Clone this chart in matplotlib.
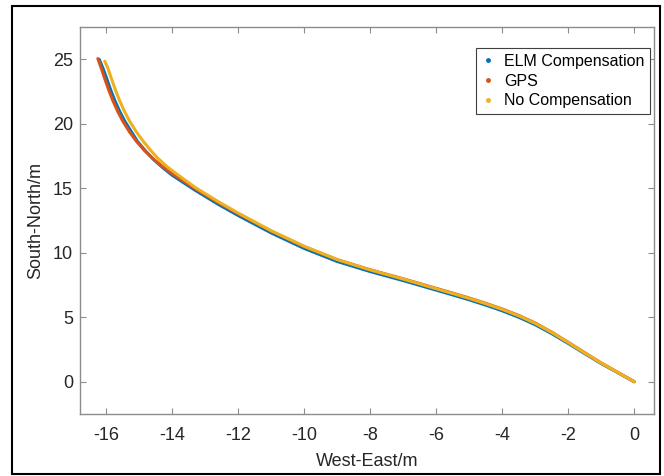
import matplotlib
matplotlib.use('Agg')
import matplotlib.pyplot as plt
from matplotlib.lines import Line2D
from matplotlib.patches import Rectangle

plt.rcParams['font.family'] = ['Liberation Sans', 'DejaVu Sans']

# Data
gps_x = [0, -0.5, -1.0, -1.5, -2.0, -2.5, -3.0, -3.5, -4.0, -4.5, -5.0, -5.5, -6.0,
         -7.0, -8.0, -9.0, -10.0, -11.0, -12.0, -12.6, -13.3, -14.0, -14.3, -14.6,
         -14.85, -15.1, -15.3, -15.5, -15.65, -15.8, -15.93, -16.06, -16.16, -16.26]
gps_y = [0, 0.73, 1.46, 2.25, 3.06, 3.84, 4.55, 5.14, 5.64, 6.08, 6.49, 6.87, 7.24,
         7.98, 8.68, 9.46, 10.47, 11.67, 13.02, 13.87, 14.95, 16.12, 16.69, 17.32,
         17.94, 18.67, 19.37, 20.19, 20.92, 21.77, 22.62, 23.57, 24.34, 25.05]

elm_x = [0, -0.5, -1.0, -1.5, -2.0, -2.5, -3.0, -3.5, -4.0, -4.5, -5.0, -5.5, -6.0,
         -7.0, -8.0, -9.0, -10.0, -11.0, -12.0, -12.6, -13.3, -14.0, -14.27, -14.56,
         -14.8, -15.05, -15.24, -15.44, -15.59, -15.74, -15.87, -16.0, -16.11, -16.22]
elm_y = [0, 0.71, 1.41, 2.18, 2.97, 3.73, 4.42, 5.0, 5.5, 5.94, 6.35, 6.73, 7.1,
         7.84, 8.54, 9.32, 10.33, 11.53, 12.88, 13.74, 14.83, 16.0, 16.55, 17.2,
         17.85, 18.6, 19.37, 20.19, 20.92, 21.77, 22.62, 23.57, 24.34, 25.0]

nc_x = [0, -0.5, -1.0, -1.5, -2.0, -2.5, -3.0, -3.5, -4.0, -4.5, -5.0, -5.5, -6.0,
        -7.0, -8.0, -9.0, -10.0, -11.0, -12.0, -12.6, -13.3, -13.92, -14.18, -14.45,
        -14.67, -14.9, -15.1, -15.3, -15.45, -15.6, -15.73, -15.86, -15.96, -16.05]
nc_y = [0, 0.73, 1.45, 2.23, 3.04, 3.82, 4.52, 5.11, 5.61, 6.05, 6.46, 6.84, 7.21,
        7.96, 8.67, 9.47, 10.5, 11.7, 13.07, 13.95, 15.05, 16.2, 16.72, 17.35,
        17.97, 18.7, 19.4, 20.22, 20.95, 21.8, 22.64, 23.6, 24.35, 24.85]

labels = ['ELM Compensation', 'GPS', 'No Compensation']
colors = ['#0072BD', '#D95319', '#EDB120']

xticks = [-16, -14, -12, -10, -8, -6, -4, -2, 0]
yticks = [0, 5, 10, 15, 20, 25]

fig = plt.figure(figsize=(6.64, 4.76), dpi=100)
ax = fig.add_axes([80 / 664, 1 - 414 / 476, 574 / 664, 387 / 476])

series = [(elm_x, elm_y), (gps_x, gps_y), (nc_x, nc_y)]
for (xs, ys), c in zip(series, colors):
    ax.plot(xs, ys, color=c, linewidth=2.2, solid_capstyle='round',
            solid_joinstyle='round')

ax.set_xlim(-16.8, 0.6)
ax.set_ylim(-2.5, 27.5)
ax.set_xticks(xticks)
ax.set_yticks(yticks)
ax.set_xticklabels([str(t) for t in xticks])
ax.set_yticklabels([str(t) for t in yticks])

ax.tick_params(direction='in', length=4, width=0.8, color='#8c8c8c',
               labelcolor='#262626', labelsize=13, top=True, right=True)
ax.tick_params(axis='x', pad=9)
ax.tick_params(axis='y', pad=5)
for s in ax.spines.values():
    s.set_color('#8c8c8c')
    s.set_linewidth(1.0)

ax.set_xlabel('West-East/m', fontsize=13, color='#262626', labelpad=7)
ax.set_ylabel('South-North/m', fontsize=13, color='#262626', labelpad=6)

handles = [Line2D([], [], color=c, marker='.', linestyle='none', markersize=5)
           for c in colors]
leg = ax.legend(handles, labels, loc='upper right', bbox_to_anchor=(0.993, 0.945),
                fontsize=11.5, frameon=True, fancybox=False, framealpha=1,
                handlelength=0.8, handletextpad=0.6, borderpad=0.35,
                labelspacing=0.3, borderaxespad=0)
leg.get_frame().set_edgecolor('#404040')
leg.get_frame().set_linewidth(0.8)

# outer frame around the figure
fig.patches.append(Rectangle((12 / 664, 2 / 476), 648 / 664, 468 / 476,
                             transform=fig.transFigure, fill=False,
                             edgecolor='black', linewidth=1.5))

fig.savefig('out.png', dpi=100)
plt.close(fig)
